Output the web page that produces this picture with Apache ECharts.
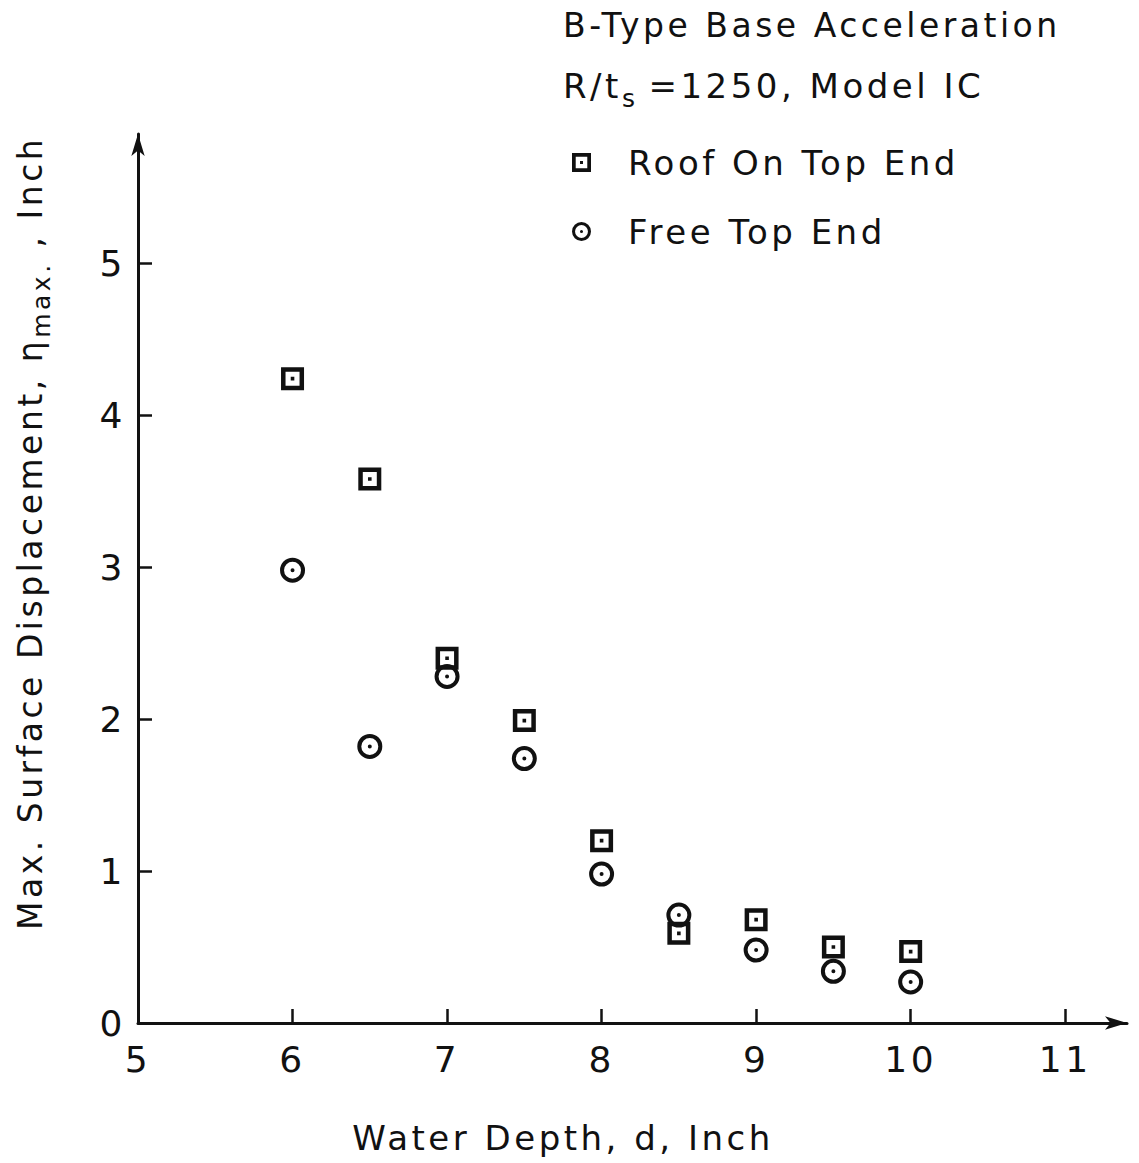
<!DOCTYPE html>
<html>
<head>
<meta charset="utf-8">
<script src="https://cdn.jsdelivr.net/npm/echarts@6/dist/echarts.min.js"></script>
<style>
html,body{margin:0;padding:0;background:#fff}
#c{width:1139px;height:1163px}
#c svg text{letter-spacing:3.5px}
</style>
</head>
<body>
<div id="c"></div>
<script>
// Water depth d (inch)
const depth = [6, 6.5, 7, 7.5, 8, 8.5, 9, 9.5, 10];
// Max surface displacement (inch)
const roofOnTop = [4.24, 3.58, 2.40, 1.99, 1.20, 0.59, 0.68, 0.50, 0.47];
const freeTop   = [2.98, 1.82, 2.28, 1.74, 0.98, 0.71, 0.48, 0.34, 0.27];
const xTickLabels = [5, 6, 7, 8, 9, 10, 11];
const yTickLabels = [0, 1, 2, 3, 4, 5];

const FONT = '"DejaVu Sans", sans-serif';
const INK = '#111';
const LS = 3.5;

const squareSym = 'path://M0,0 L23,0 L23,23 L0,23 Z M4.5,4.5 L4.5,18.5 L18.5,18.5 L18.5,4.5 Z M9.7,9.7 L13.3,9.7 L13.3,13.3 L9.7,13.3 Z';
const circleSym = 'path://M12.5,0 A12.5,12.5 0 1,1 12.5,25 A12.5,12.5 0 1,1 12.5,0 Z M12.5,4 A8.5,8.5 0 1,0 12.5,21 A8.5,8.5 0 1,0 12.5,4 Z M12.5,10.5 A2,2 0 1,1 12.5,14.5 A2,2 0 1,1 12.5,10.5 Z';

// lay out text pieces (main text + subscripts) one after another
const mctx = document.createElement('canvas').getContext('2d');
function measure(t, size) { mctx.font = size + 'px ' + FONT; return mctx.measureText(t).width + LS * t.length; }
function pieces(list) {
  let x = 0; const out = [];
  list.forEach(p => {
    x += p.dx || 0;
    out.push({type: 'text', x: x, y: p.dy || 0, style: {text: p.t, font: p.size + 'px ' + FONT, fill: INK, verticalAlign: 'middle'}});
    x += measure(p.t, p.size);
  });
  return out;
}

const chart = echarts.init(document.getElementById('c'), null, {renderer: 'svg'});
chart.setOption({
  backgroundColor: '#fff',
  animation: false,
  grid: {left: 138, right: 12, top: 134, bottom: 140, containLabel: false},
  xAxis: {
    type: 'value', min: 5, max: 11.4,
    splitLine: {show: false},
    axisLine: {show: true, lineStyle: {color: INK, width: 3}, symbol: ['none', 'arrow'], symbolSize: [10, 22]},
    axisTick: {show: true, inside: true, length: 14, lineStyle: {color: INK, width: 2.5}, customValues: xTickLabels.slice(1)},
    axisLabel: {fontSize: 36, color: INK, fontFamily: FONT, margin: 18, customValues: xTickLabels}
  },
  yAxis: {
    type: 'value', min: 0, max: 5.85,
    splitLine: {show: false},
    axisLine: {show: true, lineStyle: {color: INK, width: 3}, symbol: ['none', 'arrow'], symbolSize: [10, 22]},
    axisTick: {show: true, inside: true, length: 14, lineStyle: {color: INK, width: 2.5}, customValues: yTickLabels.slice(1)},
    axisLabel: {fontSize: 36, color: INK, fontFamily: FONT, margin: 12, customValues: yTickLabels}
  },
  legend: {
    orient: 'vertical', left: 567, top: 137, itemGap: 28,
    itemWidth: 19, itemHeight: 19,
    textStyle: {fontSize: 34, color: INK, fontFamily: FONT, lineHeight: 41, padding: [0, 0, 0, 32]},
    data: ['Roof On Top End', 'Free Top End']
  },
  series: [
    {
      name: 'Roof On Top End', type: 'scatter', symbol: squareSym, symbolSize: 23,
      itemStyle: {color: INK, opacity: 1},
      data: depth.map((d, i) => [d, roofOnTop[i]])
    },
    {
      name: 'Free Top End', type: 'scatter', symbol: circleSym, symbolSize: 25,
      itemStyle: {color: INK, opacity: 1},
      data: depth.map((d, i) => [d, freeTop[i]])
    }
  ],
  graphic: [
    {type: 'text', left: 563, top: 9, style: {text: 'B-Type Base Acceleration', font: '33px ' + FONT, fill: INK}},
    {type: 'group', x: 563, y: 86, children: pieces([
      {t: 'R/t', size: 34},
      {t: 's', size: 25, dy: 12},
      {t: '=1250, Model IC', size: 34, dx: 10}
    ])},
    {type: 'group', x: 30, y: 930, rotation: Math.PI / 2, children: pieces([
      {t: 'Max. Surface Displacement, η', size: 33},
      {t: 'max.', size: 25, dy: 11},
      {t: ' , Inch', size: 33}
    ])},
    {type: 'text', x: 563, y: 1138, style: {text: 'Water Depth, d, Inch', font: '34px ' + FONT, fill: INK, align: 'center', verticalAlign: 'middle'}}
  ]
});
</script>
</body>
</html>
